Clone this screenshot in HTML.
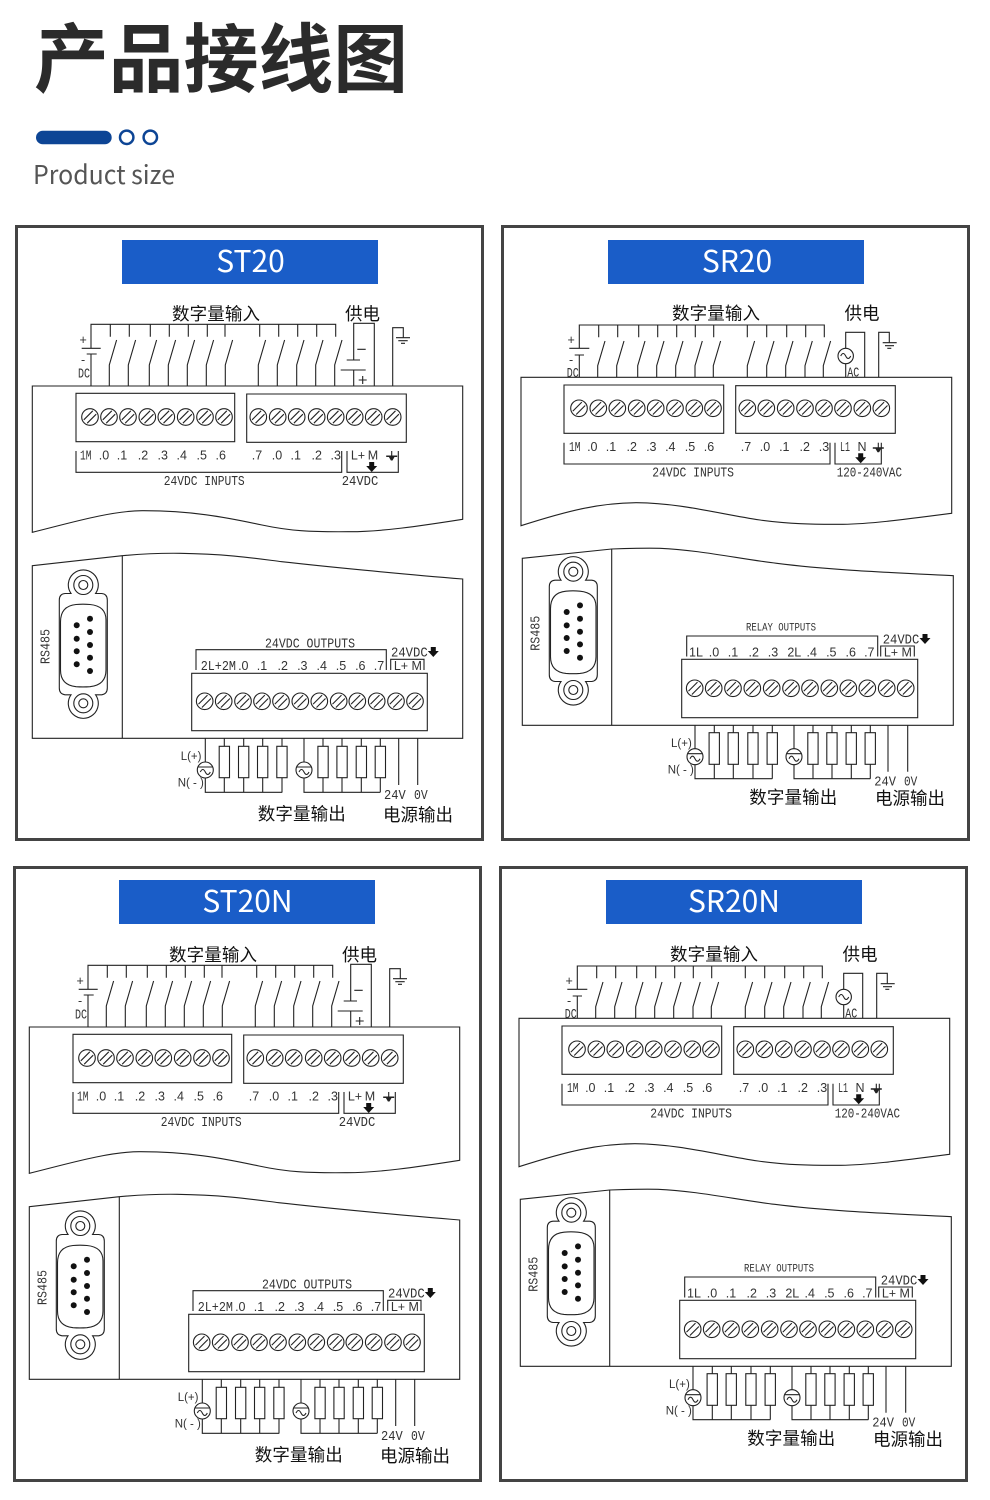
<!DOCTYPE html>
<html lang="zh"><head><meta charset="utf-8"><title>产品接线图</title>
<style>
html,body{margin:0;padding:0;background:#fff}
svg{display:block}
.w{fill:none;stroke:#222;stroke-width:1.1}
.b{fill:none;stroke:#444;stroke-width:3}
.f{fill:#333;stroke:none;font-family:"Liberation Sans",sans-serif;font-size:12.5px}
.f[textLength]{font-family:"Liberation Mono",monospace;font-size:13.5px}
.f.n{font-size:11.5px}
.c{fill:#111;font-family:"Liberation Sans","Noto Sans CJK SC",sans-serif;font-size:17.5px}
.h{fill:#fff;font-family:"Noto Sans CJK SC","Liberation Sans",sans-serif;font-size:30px;text-anchor:middle}
.m{text-anchor:middle}
</style></head><body>
<svg width="990" height="1500" viewBox="0 0 990 1500" xmlns="http://www.w3.org/2000/svg">
<defs>
<g id="s"><circle r="8.3" class="w"/><path class="w" d="M-6.2 2.8L2.8-6.2M-2.8 6.2L6.2-2.8"/></g>
<g id="l"><circle r="8" class="w"/><path class="w" d="M-7-3H7M-5 2q2.500-5 5 0t5 0"/></g>
<g id="ac"><circle r="7.700" class="w"/><path class="w" d="M-5 0q2.500-5 5 0t5 0"/></g>
<path id="a" fill="#111" d="M-2.500-5H2.500V-1H5.500L0 5L-5.500-1H-2.500Z"/>
<g id="g"><path class="w" d="M0 0V5"/><path fill="#222" d="M-5.500 4.500H5.500V6H2.800L0.800 9.500H-0.800L-2.800 6H-5.500Z"/></g>
<g id="dsub">
<path class="w" d="M59.300 600Q59.300 594 65 593.500L71 593.500A15 15 0 1 1 95.600 593.500L101.700 593.500Q107.300 594 107.300 600V688Q107.300 694 101.700 694.800L95.600 694.800A15 15 0 1 1 71 694.800L65 694.800Q59.300 694 59.300 688Z"/>
<path class="w" d="M60.500 622Q60.500 606 76 604.500Q83 603.800 90 604.500Q106 606 106 620V670Q106 685 90 686.700Q83 687.200 76 686.700Q60.500 685 60.500 670Z"/>
<circle class="w" cx="83.300" cy="585" r="9.500"/><circle class="w" cx="83.300" cy="585" r="4.500"/>
<circle class="w" cx="83.300" cy="703.300" r="9.500"/><circle class="w" cx="83.300" cy="703.300" r="4.500"/>
<g fill="#111"><circle cx="76.700" cy="625.300" r="3"/><circle cx="76.700" cy="638.700" r="3"/><circle cx="76.700" cy="651.300" r="3"/><circle cx="76.700" cy="664.300" r="3"/>
<circle cx="90" cy="618.700" r="3"/><circle cx="90" cy="632" r="3"/><circle cx="90" cy="645" r="3"/><circle cx="90" cy="657.700" r="3"/><circle cx="90" cy="671" r="3"/></g>
</g>
<g id="st">
<path class="w" d="M32.300 386H462.700V519.300C420 526 380 532 348 531.700C310 532 290 531 262 525C225 517 190 510.500 142 510.700C110 511 70 523 32.300 532.300Z"/>
<path class="w" d="M76 393.300H234.700V441.700H76ZM246.700 394H406.300V442.300H246.700Z"/>
<use href="#s" x="90" y="417"/><use href="#s" x="109" y="417"/><use href="#s" x="128" y="417"/><use href="#s" x="147.300" y="417"/><use href="#s" x="166.300" y="417"/><use href="#s" x="185.700" y="417"/><use href="#s" x="205" y="417"/><use href="#s" x="224" y="417"/>
<use href="#s" x="258.300" y="417"/><use href="#s" x="277.700" y="417"/><use href="#s" x="296.700" y="417"/><use href="#s" x="316.700" y="417"/><use href="#s" x="335.700" y="417"/><use href="#s" x="354.700" y="417"/><use href="#s" x="373.700" y="417"/><use href="#s" x="392.700" y="417"/>
<path class="w" d="M76 451V472.300H341.700V451M347 451V472.300H398.300V451"/>
<use href="#g" x="391.700" y="451"/>
<use href="#a" x="371.700" y="467"/>
<path class="w" d="M91 386V354M86.700 354H96.700M81.700 348.300H100.700M91 348.300V324.300H335.700V336.700M110.300 324.300V336.700M129.300 324.300V336.700M150.300 324.300V336.700M169.300 324.300V336.700M188.300 324.300V336.700M207.300 324.300V336.700M225 324.300V336.700M259.700 324.300V336.700M278.700 324.300V336.700M297.700 324.300V336.700M316.700 324.300V336.700"/>
<path class="w" d="M109.300 386V365L116.600 340M128.300 386V365L135.600 340M149.300 386V365L156.600 340M168.300 386V365L175.600 340M187.300 386V365L194.600 340M206.300 386V365L213.600 340M225.300 386V365L232.600 340M258.300 386V365L265.600 340M277.300 386V365L284.600 340M296.700 386V365L304 340M315.700 386V365L323 340M334.700 386V365L342 340"/>
<path class="w" d="M353.700 360V323.300H374.300V386M346.700 360H360M340.700 370H365.700M353.700 370V386M357.300 349.300H365.700M362.700 376V384M358.700 380H366.700"/>
<path class="w" d="M392.700 386V327.700H403.300V337.700M396 337.700H410M398.300 340.700H407.700M401 343.300H405"/>
<path class="w" d="M32.300 565.700L122.300 555.700C140 554 155 553 180 553.300C230 554 260 559 281.700 561.700C320 566 400 574 462.700 579V738.300H32.300ZM122.300 555.700V738.300"/>
<use href="#dsub"/>
<rect class="w" x="191.700" y="673.300" width="235.600" height="57.400"/>
<use href="#s" x="204.700" y="701.300"/><use href="#s" x="223.700" y="701.300"/><use href="#s" x="243" y="701.300"/><use href="#s" x="262" y="701.300"/><use href="#s" x="281" y="701.300"/><use href="#s" x="300.300" y="701.300"/><use href="#s" x="319.300" y="701.300"/><use href="#s" x="338.700" y="701.300"/><use href="#s" x="357.300" y="701.300"/><use href="#s" x="376.700" y="701.300"/><use href="#s" x="396" y="701.300"/><use href="#s" x="415" y="701.300"/>
<path class="w" d="M196 670V649.700H386.300V670M390.700 670V659.300H424V670"/>
<use href="#a" x="433.300" y="652"/>
<path class="w" d="M205.300 738.300V762.300M205.300 777.700V792.300H282.300M224.300 738.300V792.300M243.700 738.300V792.300M262.700 738.300V792.300M282 738.300V792.300M304 738.300V762.300M304 777.700V792.300H380.300M323 738.300V792.300M342 738.300V792.300M361.300 738.300V792.300M380.300 738.300V792.300M398.700 738.300V785M417.700 738.300V785"/>
<g fill="#fff" stroke="#222" stroke-width="1.100"><rect x="219.200" y="746.300" width="10.300" height="31.400"/><rect x="238.500" y="746.300" width="10.300" height="31.400"/><rect x="257.500" y="746.300" width="10.300" height="31.400"/><rect x="276.800" y="746.300" width="10.300" height="31.400"/><rect x="317.900" y="746.300" width="10.300" height="31.400"/><rect x="336.900" y="746.300" width="10.300" height="31.400"/><rect x="356.200" y="746.300" width="10.300" height="31.400"/><rect x="375.200" y="746.300" width="10.300" height="31.400"/></g>
<use href="#l" x="205.300" y="770"/><use href="#l" x="304" y="770"/>
</g>
<g id="sr">
<path class="w" d="M521 377.300H951.700V513.300C900 520 870 524 843 524.300C810 524.500 790 524 760 520C720 514 680 503 636.700 502.700C600 503 570 510 521 525.700Z"/>
<path class="w" d="M564 385H723.700V433.300H564ZM735.700 385.700H895.300V433.300H735.700Z"/>
<use href="#s" x="579" y="408.300"/><use href="#s" x="598.300" y="408.300"/><use href="#s" x="617.300" y="408.300"/><use href="#s" x="636.700" y="408.300"/><use href="#s" x="655.700" y="408.300"/><use href="#s" x="675" y="408.300"/><use href="#s" x="694.300" y="408.300"/><use href="#s" x="713" y="408.300"/>
<use href="#s" x="747.300" y="408.300"/><use href="#s" x="766.300" y="408.300"/><use href="#s" x="785.700" y="408.300"/><use href="#s" x="805" y="408.300"/><use href="#s" x="824" y="408.300"/><use href="#s" x="843" y="408.300"/><use href="#s" x="862.300" y="408.300"/><use href="#s" x="881.300" y="408.300"/>
<path class="w" d="M564 442.700V464H830V442.700M835 442.700V464H881.300V442.700"/>
<use href="#g" x="878.300" y="442.700"/>
<use href="#a" x="860.700" y="458.300"/>
<path class="w" d="M579.300 377.300V355M574.700 355H584M569.300 348.300H589.300M579.300 348.300V325H824.300V337.300M598.700 325V337.300M617.700 325V337.300M638.700 325V337.300M657.700 325V337.300M676.700 325V337.300M695.300 325V337.300M713.700 325V337.300M747.300 325V337.300M766.700 325V337.300M786.700 325V337.300M805.700 325V337.300"/>
<path class="w" d="M597.700 377.300V365.700L605 341M616.700 377.300V365.700L624 341M637.700 377.300V365.700L645 341M656.700 377.300V365.700L664 341M675.700 377.300V365.700L683 341M695 377.300V365.700L702.300 341M713.300 377.300V365.700L720.600 341M747.300 377.300V365.700L754.600 341M766.700 377.300V365.700L774 341M785.700 377.300V365.700L793 341M805 377.300V365.700L812.300 341M823.300 377.300V365.700L830.600 341"/>
<path class="w" d="M845.700 348.300V332.300H864.700V377.300M845.700 363.700V377.300"/>
<use href="#ac" x="845.700" y="356"/>
<path class="w" d="M878.700 377.300V332.300H889.300V342.700M882.700 342.700H896.700M885 345.700H894M887.300 348.300H891.300"/>
<path class="w" d="M522.300 558.300L611.700 549C625 548.500 640 548 660 548.300C700 550 740 559 776.700 563.300C830 570 880 572 953.300 575.700V725.300H522.300ZM611.700 549V725.300"/>
<use href="#dsub" x="490" y="-13.300"/>
<rect class="w" x="681.700" y="659.300" width="236" height="58.400"/>
<use href="#s" x="694.700" y="688.300"/><use href="#s" x="713.700" y="688.300"/><use href="#s" x="733" y="688.300"/><use href="#s" x="752.300" y="688.300"/><use href="#s" x="771.700" y="688.300"/><use href="#s" x="791" y="688.300"/><use href="#s" x="810" y="688.300"/><use href="#s" x="829.300" y="688.300"/><use href="#s" x="848.300" y="688.300"/><use href="#s" x="867.300" y="688.300"/><use href="#s" x="886.700" y="688.300"/><use href="#s" x="905.700" y="688.300"/>
<path class="w" d="M686.700 656.500V636H877.700V656.500M880.700 656.500V646H914.300V656.500"/>
<use href="#a" x="925" y="639"/>
<path class="w" d="M695 725.300V749M695 764.400V778.700H772.300M714.300 725.300V778.700M733.300 725.300V778.700M753 725.300V778.700M772.300 725.300V778.700M794 725.300V749M794 764.400V778.700H870.300M813 725.300V778.700M832 725.300V778.700M851.300 725.300V778.700M870.300 725.300V778.700M888 725.300V771.700M907.700 725.300V771.700"/>
<g fill="#fff" stroke="#222" stroke-width="1.100"><rect x="709.100" y="732.700" width="10.300" height="31.600"/><rect x="728.100" y="732.700" width="10.300" height="31.600"/><rect x="747.800" y="732.700" width="10.300" height="31.600"/><rect x="767.100" y="732.700" width="10.300" height="31.600"/><rect x="807.800" y="732.700" width="10.300" height="31.600"/><rect x="826.800" y="732.700" width="10.300" height="31.600"/><rect x="846.100" y="732.700" width="10.300" height="31.600"/><rect x="865.100" y="732.700" width="10.300" height="31.600"/></g>
<use href="#l" x="695" y="756.700"/><use href="#l" x="794" y="756.700"/>
</g>
</defs>

<text x="34" y="86" font-family="'Noto Sans CJK SC',sans-serif" font-weight="700" font-size="75" fill="#2b2b2b" textLength="374" lengthAdjust="spacingAndGlyphs">产品接线图</text>
<rect x="36" y="130.700" width="75.700" height="13.600" rx="6.800" fill="#0d4595"/>
<circle cx="126.700" cy="137.300" r="6.700" fill="none" stroke="#0d4595" stroke-width="2.500"/>
<circle cx="150.300" cy="137.300" r="6.700" fill="none" stroke="#0d4595" stroke-width="2.500"/>
<text x="33" y="184" font-family="'Noto Sans CJK SC','Liberation Sans',sans-serif" font-size="26" fill="#555" textLength="142" lengthAdjust="spacingAndGlyphs">Product size</text>

<rect class="b" x="16.500" y="226.500" width="466" height="613"/>
<rect class="b" x="502.500" y="226.500" width="466" height="613"/>
<rect class="b" x="14.500" y="867.500" width="466" height="613"/>
<rect class="b" x="500.500" y="867.500" width="466" height="613"/>

<use href="#st"/>
<use href="#sr"/>
<use href="#st" x="-3" y="641"/>
<use href="#sr" x="-2" y="641"/>

<rect x="122" y="240" width="256" height="44" fill="#1a5dc8"/>
<rect x="608" y="240" width="256" height="44" fill="#1a5dc8"/>
<rect x="119" y="880" width="256" height="44" fill="#1a5dc8"/>
<rect x="606" y="880" width="256" height="44" fill="#1a5dc8"/>
<text class="h" x="250.500" y="272">ST20</text>
<text class="h" x="737" y="272">SR20</text>
<text class="h" x="247.500" y="912">ST20N</text>
<text class="h" x="734" y="912">SR20N</text>

<g>
<text class="c" x="172" y="320" textLength="88">数字量输入</text><text class="c" x="345" y="320" textLength="35">供电</text>
<text class="c" x="257.700" y="820" textLength="88">数字量输出</text><text class="c" x="383" y="821" textLength="70">电源输出</text>
<text class="f" x="79.500" y="344">+</text><text class="f" x="81" y="364">-</text><text class="f" x="78" y="377.500" textLength="12" lengthAdjust="spacingAndGlyphs">DC</text>
<text class="f" x="80" y="459.500" textLength="11.500" lengthAdjust="spacingAndGlyphs">1M</text>
<text class="f m" x="104" y="459.500">.0</text><text class="f m" x="122" y="459.500">.1</text><text class="f m" x="143" y="459.500">.2</text><text class="f m" x="162.700" y="459.500">.3</text><text class="f m" x="181.700" y="459.500">.4</text><text class="f m" x="201.700" y="459.500">.5</text><text class="f m" x="220.700" y="459.500">.6</text><text class="f m" x="257" y="459.500">.7</text><text class="f m" x="277" y="459.500">.0</text><text class="f m" x="295.700" y="459.500">.1</text><text class="f m" x="316.700" y="459.500">.2</text><text class="f m" x="335.700" y="459.500">.3</text><text class="f m" x="358" y="459.500">L+</text><text class="f m" x="373" y="459.500">M</text>
<text class="f" x="163.700" y="485" textLength="81" lengthAdjust="spacingAndGlyphs">24VDC INPUTS</text>
<text class="f" x="341.700" y="485" textLength="36.600" lengthAdjust="spacingAndGlyphs">24VDC</text>
<text class="f" transform="translate(49.500 664) rotate(-90)" textLength="35" lengthAdjust="spacingAndGlyphs">RS485</text>
<text class="f" x="265" y="647.500" textLength="90" lengthAdjust="spacingAndGlyphs">24VDC OUTPUTS</text>
<text class="f" x="391" y="656.700" textLength="36.700" lengthAdjust="spacingAndGlyphs">24VDC</text>
<text class="f" x="200.700" y="670" textLength="35.300" lengthAdjust="spacingAndGlyphs">2L+2M</text>
<text class="f m" x="243.300" y="670">.0</text><text class="f m" x="262" y="670">.1</text><text class="f m" x="282.700" y="670">.2</text><text class="f m" x="302.300" y="670">.3</text><text class="f m" x="321.700" y="670">.4</text><text class="f m" x="341" y="670">.5</text><text class="f m" x="360.300" y="670">.6</text><text class="f m" x="379" y="670">.7</text><text class="f m" x="401" y="670">L+</text><text class="f m" x="416.700" y="670">M</text>
<text class="f n" x="180.700" y="760">L(+)</text>
<text class="f n" x="177.700" y="786.700">N( - )</text>
<text class="f" x="384" y="799" textLength="21.700" lengthAdjust="spacingAndGlyphs">24V</text><text class="f" x="414" y="799" textLength="13.700" lengthAdjust="spacingAndGlyphs">0V</text>
</g>

<g transform="translate(-3 641)">
<text class="c" x="172" y="320" textLength="88">数字量输入</text><text class="c" x="345" y="320" textLength="35">供电</text>
<text class="c" x="257.700" y="820" textLength="88">数字量输出</text><text class="c" x="383" y="821" textLength="70">电源输出</text>
<text class="f" x="79.500" y="344">+</text><text class="f" x="81" y="364">-</text><text class="f" x="78" y="377.500" textLength="12" lengthAdjust="spacingAndGlyphs">DC</text>
<text class="f" x="80" y="459.500" textLength="11.500" lengthAdjust="spacingAndGlyphs">1M</text>
<text class="f m" x="104" y="459.500">.0</text><text class="f m" x="122" y="459.500">.1</text><text class="f m" x="143" y="459.500">.2</text><text class="f m" x="162.700" y="459.500">.3</text><text class="f m" x="181.700" y="459.500">.4</text><text class="f m" x="201.700" y="459.500">.5</text><text class="f m" x="220.700" y="459.500">.6</text><text class="f m" x="257" y="459.500">.7</text><text class="f m" x="277" y="459.500">.0</text><text class="f m" x="295.700" y="459.500">.1</text><text class="f m" x="316.700" y="459.500">.2</text><text class="f m" x="335.700" y="459.500">.3</text><text class="f m" x="358" y="459.500">L+</text><text class="f m" x="373" y="459.500">M</text>
<text class="f" x="163.700" y="485" textLength="81" lengthAdjust="spacingAndGlyphs">24VDC INPUTS</text>
<text class="f" x="341.700" y="485" textLength="36.600" lengthAdjust="spacingAndGlyphs">24VDC</text>
<text class="f" transform="translate(49.500 664) rotate(-90)" textLength="35" lengthAdjust="spacingAndGlyphs">RS485</text>
<text class="f" x="265" y="647.500" textLength="90" lengthAdjust="spacingAndGlyphs">24VDC OUTPUTS</text>
<text class="f" x="391" y="656.700" textLength="36.700" lengthAdjust="spacingAndGlyphs">24VDC</text>
<text class="f" x="200.700" y="670" textLength="35.300" lengthAdjust="spacingAndGlyphs">2L+2M</text>
<text class="f m" x="243.300" y="670">.0</text><text class="f m" x="262" y="670">.1</text><text class="f m" x="282.700" y="670">.2</text><text class="f m" x="302.300" y="670">.3</text><text class="f m" x="321.700" y="670">.4</text><text class="f m" x="341" y="670">.5</text><text class="f m" x="360.300" y="670">.6</text><text class="f m" x="379" y="670">.7</text><text class="f m" x="401" y="670">L+</text><text class="f m" x="416.700" y="670">M</text>
<text class="f n" x="180.700" y="760">L(+)</text>
<text class="f n" x="177.700" y="786.700">N( - )</text>
<text class="f" x="384" y="799" textLength="21.700" lengthAdjust="spacingAndGlyphs">24V</text><text class="f" x="414" y="799" textLength="13.700" lengthAdjust="spacingAndGlyphs">0V</text>
</g>

<g>
<text class="c" x="672" y="319.500" textLength="88">数字量输入</text><text class="c" x="844.500" y="319.500" textLength="35">供电</text>
<text class="c" x="749.300" y="803.500" textLength="88">数字量输出</text><text class="c" x="875" y="804.500" textLength="70">电源输出</text>
<text class="f" x="567.500" y="344">+</text><text class="f" x="569" y="364">-</text><text class="f" x="566.700" y="377" textLength="12" lengthAdjust="spacingAndGlyphs">DC</text>
<text class="f" x="847.300" y="376.700" textLength="12" lengthAdjust="spacingAndGlyphs">AC</text>
<text class="f" x="569" y="451" textLength="11.500" lengthAdjust="spacingAndGlyphs">1M</text>
<text class="f m" x="592.300" y="451">.0</text><text class="f m" x="611" y="451">.1</text><text class="f m" x="631.700" y="451">.2</text><text class="f m" x="651.300" y="451">.3</text><text class="f m" x="670.300" y="451">.4</text><text class="f m" x="690" y="451">.5</text><text class="f m" x="709" y="451">.6</text><text class="f m" x="746" y="451">.7</text><text class="f m" x="765" y="451">.0</text><text class="f m" x="784.300" y="451">.1</text><text class="f m" x="804.700" y="451">.2</text><text class="f m" x="824" y="451">.3</text><text class="f" x="840" y="451" textLength="10" lengthAdjust="spacingAndGlyphs">L1</text><text class="f m" x="862" y="451">N</text>
<text class="f" x="652.300" y="476.700" textLength="81.700" lengthAdjust="spacingAndGlyphs">24VDC INPUTS</text>
<text class="f" x="836.700" y="476.700" textLength="65.300" lengthAdjust="spacingAndGlyphs">120-240VAC</text>
<text class="f" transform="translate(539.500 650.700) rotate(-90)" textLength="35" lengthAdjust="spacingAndGlyphs">RS485</text>
<text class="f" x="746" y="630.700" textLength="70" lengthAdjust="spacingAndGlyphs" style="font-size:11px">RELAY OUTPUTS</text>
<text class="f" x="882.700" y="643.300" textLength="36.600" lengthAdjust="spacingAndGlyphs">24VDC</text>
<text class="f m" x="696" y="656.700">1L</text><text class="f m" x="714" y="656.700">.0</text><text class="f m" x="733" y="656.700">.1</text><text class="f m" x="753.700" y="656.700">.2</text><text class="f m" x="773" y="656.700">.3</text><text class="f m" x="794.300" y="656.700">2L</text><text class="f m" x="811.700" y="656.700">.4</text><text class="f m" x="831.300" y="656.700">.5</text><text class="f m" x="850.700" y="656.700">.6</text><text class="f m" x="869.300" y="656.700">.7</text><text class="f m" x="891" y="656.700">L+</text><text class="f m" x="906.700" y="656.700">M</text>
<text class="f n" x="671" y="747">L(+)</text>
<text class="f n" x="667.700" y="773.300">N( - )</text>
<text class="f" x="874.300" y="785.700" textLength="21.700" lengthAdjust="spacingAndGlyphs">24V</text><text class="f" x="904" y="785.700" textLength="13.300" lengthAdjust="spacingAndGlyphs">0V</text>
</g>

<g transform="translate(-2 641)">
<text class="c" x="672" y="319.500" textLength="88">数字量输入</text><text class="c" x="844.500" y="319.500" textLength="35">供电</text>
<text class="c" x="749.300" y="803.500" textLength="88">数字量输出</text><text class="c" x="875" y="804.500" textLength="70">电源输出</text>
<text class="f" x="567.500" y="344">+</text><text class="f" x="569" y="364">-</text><text class="f" x="566.700" y="377" textLength="12" lengthAdjust="spacingAndGlyphs">DC</text>
<text class="f" x="847.300" y="376.700" textLength="12" lengthAdjust="spacingAndGlyphs">AC</text>
<text class="f" x="569" y="451" textLength="11.500" lengthAdjust="spacingAndGlyphs">1M</text>
<text class="f m" x="592.300" y="451">.0</text><text class="f m" x="611" y="451">.1</text><text class="f m" x="631.700" y="451">.2</text><text class="f m" x="651.300" y="451">.3</text><text class="f m" x="670.300" y="451">.4</text><text class="f m" x="690" y="451">.5</text><text class="f m" x="709" y="451">.6</text><text class="f m" x="746" y="451">.7</text><text class="f m" x="765" y="451">.0</text><text class="f m" x="784.300" y="451">.1</text><text class="f m" x="804.700" y="451">.2</text><text class="f m" x="824" y="451">.3</text><text class="f" x="840" y="451" textLength="10" lengthAdjust="spacingAndGlyphs">L1</text><text class="f m" x="862" y="451">N</text>
<text class="f" x="652.300" y="476.700" textLength="81.700" lengthAdjust="spacingAndGlyphs">24VDC INPUTS</text>
<text class="f" x="836.700" y="476.700" textLength="65.300" lengthAdjust="spacingAndGlyphs">120-240VAC</text>
<text class="f" transform="translate(539.500 650.700) rotate(-90)" textLength="35" lengthAdjust="spacingAndGlyphs">RS485</text>
<text class="f" x="746" y="630.700" textLength="70" lengthAdjust="spacingAndGlyphs" style="font-size:11px">RELAY OUTPUTS</text>
<text class="f" x="882.700" y="643.300" textLength="36.600" lengthAdjust="spacingAndGlyphs">24VDC</text>
<text class="f m" x="696" y="656.700">1L</text><text class="f m" x="714" y="656.700">.0</text><text class="f m" x="733" y="656.700">.1</text><text class="f m" x="753.700" y="656.700">.2</text><text class="f m" x="773" y="656.700">.3</text><text class="f m" x="794.300" y="656.700">2L</text><text class="f m" x="811.700" y="656.700">.4</text><text class="f m" x="831.300" y="656.700">.5</text><text class="f m" x="850.700" y="656.700">.6</text><text class="f m" x="869.300" y="656.700">.7</text><text class="f m" x="891" y="656.700">L+</text><text class="f m" x="906.700" y="656.700">M</text>
<text class="f n" x="671" y="747">L(+)</text>
<text class="f n" x="667.700" y="773.300">N( - )</text>
<text class="f" x="874.300" y="785.700" textLength="21.700" lengthAdjust="spacingAndGlyphs">24V</text><text class="f" x="904" y="785.700" textLength="13.300" lengthAdjust="spacingAndGlyphs">0V</text>
</g>
</svg>
</body></html>
